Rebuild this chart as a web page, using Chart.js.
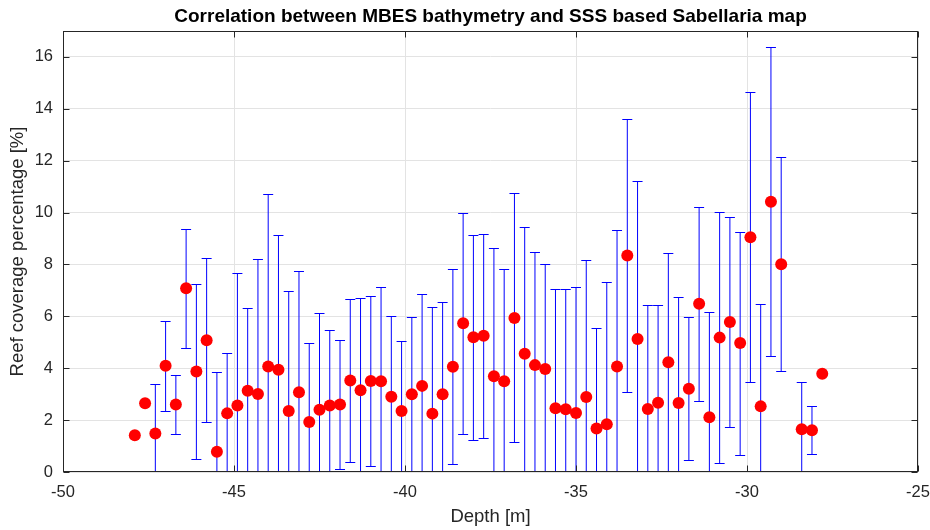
<!DOCTYPE html>
<html>
<head>
<meta charset="utf-8">
<script src="https://cdn.jsdelivr.net/npm/chart.js@4.4.1/dist/chart.umd.min.js"></script>
<style>
  html, body { margin: 0; padding: 0; background: #fff; }
  #wrap { width: 930px; height: 530px; }
</style>
</head>
<body>
<div id="wrap"><canvas id="chart" width="930" height="530"></canvas></div>
<script>
// depth bins (m)
const depth = [
  -47.9, -47.6, -47.3, -47.0, -46.7, -46.4, -46.1, -45.8, -45.5, -45.2,
  -44.9, -44.6, -44.3, -44.0, -43.7, -43.4, -43.1, -42.8, -42.5, -42.2,
  -41.9, -41.6, -41.3, -41.0, -40.7, -40.4, -40.1, -39.8, -39.5, -39.2,
  -38.9, -38.6, -38.3, -38.0, -37.7, -37.4, -37.1, -36.8, -36.5, -36.2,
  -35.9, -35.6, -35.3, -35.0, -34.7, -34.4, -34.1, -33.8, -33.5, -33.2,
  -32.9, -32.6, -32.3, -32.0, -31.7, -31.4, -31.1, -30.8, -30.5, -30.2,
  -29.9, -29.6, -29.3, -29.0, -28.4, -28.1, -27.8
];
// mean reef coverage (%)
const coverage = [
  1.42, 2.65, 1.48, 4.10, 2.60, 7.08, 3.87, 5.08, 0.78, 2.26,
  2.56, 3.13, 3.01, 4.07, 3.94, 2.35, 3.07, 1.93, 2.40, 2.56,
  2.60, 3.53, 3.15, 3.51, 3.50, 2.90, 2.35, 3.00, 3.32, 2.25,
  3.00, 4.06, 5.73, 5.19, 5.25, 3.69, 3.50, 5.94, 4.56, 4.12,
  3.97, 2.46, 2.42, 2.27, 2.89, 1.68, 1.84, 4.07, 8.35, 5.13,
  2.43, 2.67, 4.23, 2.66, 3.21, 6.49, 2.11, 5.18, 5.78, 4.97,
  9.05, 2.53, 10.42, 8.01, 1.65, 1.61, 3.79
];
// standard deviation (error bar half length), null = no bar
const spread = [
  null, null, 1.90, 1.74, 1.13, 2.29, 3.37, 3.17, 3.06, 2.31,
  5.12, 3.18, 5.19, 6.65, 5.20, 4.64, 4.68, 3.03, 3.72, 2.93,
  2.49, 3.13, 3.55, 3.28, 3.62, 3.10, 2.69, 2.96, 3.55, 4.10,
  3.55, 3.77, 4.26, 3.95, 3.93, 4.93, 4.33, 4.80, 4.90, 4.35,
  4.06, 4.58, 4.65, 4.87, 5.28, 3.88, 5.47, 5.27, 5.25, 6.09,
  4.00, 3.76, 4.20, 4.10, 2.75, 3.74, 4.05, 4.85, 4.04, 4.30,
  5.59, 3.95, 5.95, 4.12, 1.81, 0.93, null
];
const xTicks = [-50, -45, -40, -35, -30, -25];
const yTicks = [0, 2, 4, 6, 8, 10, 12, 14, 16];

const titleText = 'Correlation between MBES bathymetry and SSS based Sabellaria map';
const fontFam = '"Liberation Sans", Arial, Helvetica, sans-serif';
const axisColor = '#262626';

// error bars under the markers
const errorBars = {
  id: 'errorBars',
  beforeDatasetsDraw(chart) {
    const { ctx, chartArea: a, scales: { x, y } } = chart;
    ctx.save();
    ctx.beginPath();
    ctx.rect(a.left, a.top, a.right - a.left, a.bottom - a.top);
    ctx.clip();
    ctx.strokeStyle = '#0000ff';
    ctx.lineWidth = 1;
    depth.forEach((d, i) => {
      const e = spread[i];
      if (e == null) return;
      const px = x.getPixelForValue(d);
      const yHi = Math.round(y.getPixelForValue(coverage[i] + e)) + 0.5;
      const yLo = Math.round(y.getPixelForValue(coverage[i] - e)) + 0.5;
      ctx.beginPath();
      ctx.moveTo(px, yLo); ctx.lineTo(px, yHi);
      ctx.moveTo(px - 5, yHi); ctx.lineTo(px + 5, yHi);
      ctx.moveTo(px - 5, yLo); ctx.lineTo(px + 5, yLo);
      ctx.stroke();
    });
    ctx.restore();
  }
};

// matlab style box, inner ticks and title
const boxAndTitle = {
  id: 'boxAndTitle',
  afterDraw(chart) {
    const { ctx, chartArea: a, scales: { x, y } } = chart;
    ctx.save();
    ctx.strokeStyle = axisColor;
    ctx.lineWidth = 1;
    const L = Math.round(a.left) + 0.5, R = Math.round(a.right) - 0.5;
    const T = Math.round(a.top) + 0.5, B = Math.round(a.bottom) - 0.5;
    ctx.strokeRect(L, T, R - L, B - T);
    ctx.beginPath();
    xTicks.forEach(v => {
      const px = Math.round(x.getPixelForValue(v)) + 0.5;
      ctx.moveTo(px, B); ctx.lineTo(px, B - 6);
      ctx.moveTo(px, T); ctx.lineTo(px, T + 6);
    });
    yTicks.forEach(v => {
      const py = Math.round(y.getPixelForValue(v)) + 0.5;
      ctx.moveTo(L, py); ctx.lineTo(L + 6, py);
      ctx.moveTo(R, py); ctx.lineTo(R - 6, py);
    });
    ctx.stroke();

    ctx.fillStyle = '#000';
    ctx.font = 'bold 19px ' + fontFam;
    ctx.textAlign = 'center';
    ctx.textBaseline = 'middle';
    ctx.fillText(titleText, (a.left + a.right) / 2, 17);
    ctx.restore();
  }
};

new Chart(document.getElementById('chart'), {
  type: 'scatter',
  data: {
    datasets: [{
      data: depth.map((d, i) => ({ x: d, y: coverage[i] })),
      pointRadius: 6,
      pointBackgroundColor: '#ff0000',
      pointBorderColor: '#ff0000',
      pointBorderWidth: 0,
      showLine: false
    }]
  },
  options: {
    responsive: false,
    animation: false,
    layout: { padding: { top: 31, right: 12, left: 0, bottom: 0 } },
    plugins: {
      legend: { display: false },
      tooltip: { enabled: false },
      title: { display: false }
    },
    scales: {
      x: {
        type: 'linear',
        min: -50, max: -25,
        afterBuildTicks: s => { s.ticks = xTicks.map(v => ({ value: v })); },
        afterFit: s => { s.height = 58; s.paddingLeft = 0; s.paddingRight = 0; },
        ticks: { color: axisColor, font: { family: fontFam, size: 16.5 }, padding: 11, maxRotation: 0 },
        grid: { color: '#e3e3e3', drawTicks: false },
        border: { display: false },
        title: {
          display: true, text: 'Depth [m]', color: axisColor,
          font: { family: fontFam, size: 18.5 }, padding: { top: 0, bottom: 2 }
        }
      },
      y: {
        min: 0, max: 17,
        afterBuildTicks: s => { s.ticks = yTicks.map(v => ({ value: v })); },
        afterFit: s => { s.width = 63; },
        ticks: { color: axisColor, font: { family: fontFam, size: 16.5 }, padding: 10 },
        grid: { color: '#e3e3e3', drawTicks: false },
        border: { display: false },
        title: {
          display: true, text: 'Reef coverage percentage [%]', color: axisColor,
          font: { family: fontFam, size: 18.5 }, padding: { top: 7, bottom: 0 }
        }
      }
    }
  },
  plugins: [errorBars, boxAndTitle]
});
</script>
</body>
</html>
